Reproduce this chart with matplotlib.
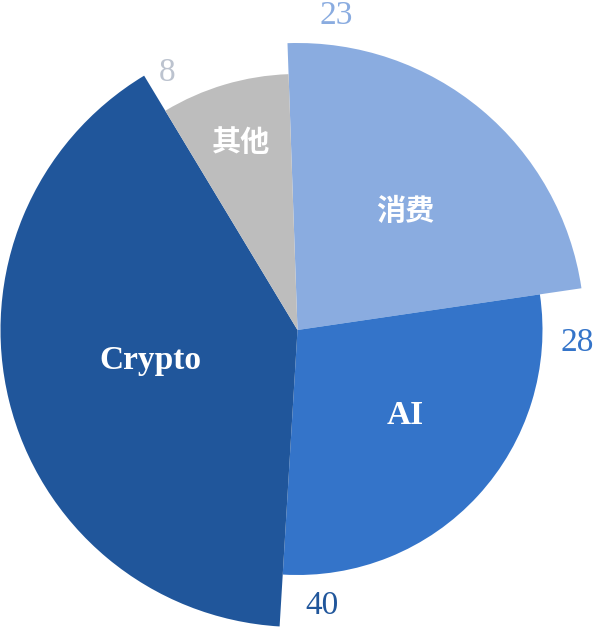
import matplotlib
matplotlib.use("Agg")
import matplotlib.pyplot as plt
import numpy as np

names = ["消费", "AI", "Crypto", "其他"]
values = [23, 28, 40, 8]
colors = ["#8aace0", "#3474c9", "#20569b", "#bdbdbd"]
value_colors = ["#8aace0", "#3474c9", "#20569b", "#bcc3cf"]
radii = [287, 245, 297, 256]  # per-slice radius in pixels (rose-style)

plt.rcParams['font.family'] = ['Liberation Serif', 'Noto Sans CJK SC']

fig = plt.figure(figsize=(5.96, 6.30), dpi=100)
ax = fig.add_axes([0, 0, 1, 1])

cx, cy = 297.5, 300
wedges, _ = ax.pie(values, colors=colors, startangle=92, counterclock=False,
                   center=(cx, cy), radius=1, frame=True)
for w, r in zip(wedges, radii):
    w.set_radius(r)
    w.set_edgecolor('none')
ax.set_xlim(0, 596)
ax.set_ylim(0, 630)
ax.set_aspect('equal')
ax.axis('off')

# inner name labels
name_pos = [(405, 418), (405, 214), (150, 270), (241, 487)]
name_size = [21, 24, 24, 21]
for (x, y), n, s in zip(name_pos, names, name_size):
    ax.text(x, y, n, color='white', fontsize=s, fontweight='bold',
            ha='center', va='center')

# outer value labels
val_pos = [(336, 614), (577, 287), (322, 24), (167, 557)]
for (x, y), v, c in zip(val_pos, values, value_colors):
    ax.text(x, y, str(v), color=c, fontsize=24, ha='center', va='center')

fig.savefig("out.png", dpi=100)
